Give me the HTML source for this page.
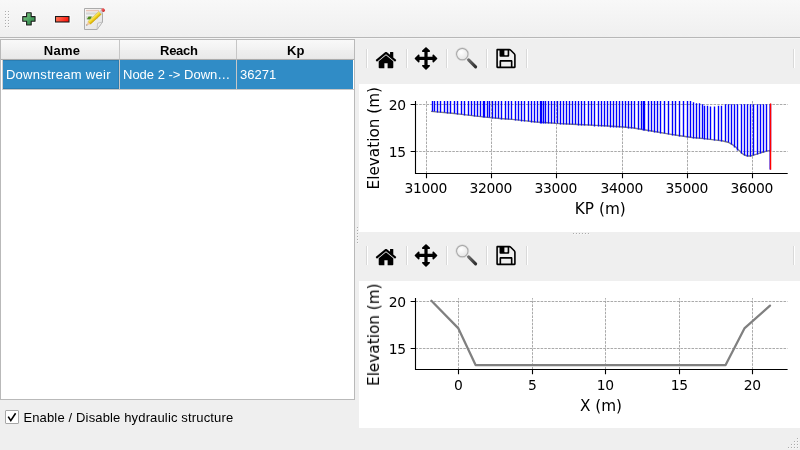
<!DOCTYPE html><html><head><meta charset="utf-8"><title>Hydraulic structures</title><style>
*{margin:0;padding:0;box-sizing:border-box}
html,body{width:800px;height:450px;overflow:hidden;background:#efefef}
body{position:relative;font-family:'Liberation Sans', sans-serif;font-size:13px;color:#000}
#root{position:absolute;left:0;top:0;width:800px;height:450px;overflow:hidden;will-change:transform}
.abs{position:absolute}
.fig{position:absolute;display:block}
.ico{position:absolute;display:block}
.sep{position:absolute;width:2px;height:19px;border-left:1px solid #d9d9d9;border-right:1px solid #ffffff}
i.dot{position:absolute;width:2px;height:2px;background:rgba(255,255,255,0.35)}
i.dot:before{content:"";position:absolute;left:0;top:0;width:1px;height:1px;background:rgba(0,0,0,0.3)}
.mpl text{font-family:'DejaVu Sans', sans-serif;font-size:13.89px;fill:#000;letter-spacing:-0.3px}
.mpl text.lab{font-size:15.28px;letter-spacing:0}
#tb{position:absolute;left:0;top:0;width:800px;height:39px;background:linear-gradient(#f8f8f8,#efefef);border-bottom:1px solid #f5f5f5}
#tbline{position:absolute;left:0;top:37px;width:800px;height:1px;background:#b7b7b7}
#table{position:absolute;left:0;top:39px;width:355px;height:361px;border:1px solid #b9b9b9;background:#fff}
.rowgl{position:absolute;left:1px;top:49px;width:352px;height:1px;background:#c7c7c7}
.lgl{position:absolute;left:1px;top:20px;width:1px;height:30px;background:#d0d0d0}
.hd{position:absolute;top:0;height:20px;background:linear-gradient(#f9f9f9 0%,#f2f2f2 50%,#efefef 50.1%,#eaeaea 92%,#e5e5e5 100%);border-bottom:1px solid #ababab;border-right:1px solid #c6c6c6;box-shadow:inset 0 1px 0 rgba(255,255,255,0.12);font-weight:bold;text-align:center;line-height:19px;font-size:13px}
.cell{position:absolute;top:20px;height:29px;background:#308cc6;color:#fff;line-height:29px;white-space:nowrap;overflow:hidden;font-size:13px}
.gl{position:absolute;top:20px;width:1px;height:29px;background:#c7c7c7}
.ht{position:absolute;top:1px;line-height:19px;font-weight:bold;font-size:13px;white-space:nowrap}
.ct{position:absolute;top:20px;line-height:29px;color:#fff;font-size:13px;white-space:nowrap}
#chk{position:absolute;left:5px;top:410px;width:14px;height:14px;border:1px solid #a7a7a7;background:#fff;border-radius:1px}
#chklbl{position:absolute;top:409px;font-size:13px;line-height:18px;white-space:nowrap}
</style></head><body><div id="root">
<div id="tb"></div><div id="tbline"></div>
<i class="dot" style="left:5px;top:11px"></i><i class="dot" style="left:5px;top:14px"></i><i class="dot" style="left:5px;top:17px"></i><i class="dot" style="left:5px;top:20px"></i><i class="dot" style="left:5px;top:23px"></i><i class="dot" style="left:5px;top:26px"></i><i class="dot" style="left:8px;top:11px"></i><i class="dot" style="left:8px;top:14px"></i><i class="dot" style="left:8px;top:17px"></i><i class="dot" style="left:8px;top:20px"></i><i class="dot" style="left:8px;top:23px"></i><i class="dot" style="left:8px;top:26px"></i>
<svg class="ico" style="left:20px;top:10px" width="18" height="18" viewBox="0 0 18 18">
<defs><linearGradient id="gp" x1="0" y1="0" x2="1" y2="1"><stop offset="0" stop-color="#8ccf8c"/><stop offset="0.55" stop-color="#4aa060"/><stop offset="1" stop-color="#2a7a40"/></linearGradient></defs>
<path d="M6.60 2.75 L11.20 2.75 L11.20 6.60 L15.05 6.60 L15.05 11.20 L11.20 11.20 L11.20 15.05 L6.60 15.05 L6.60 11.20 L2.75 11.20 L2.75 6.60 L6.60 6.60z" fill="none" stroke="#ffffff" stroke-width="3" stroke-linejoin="round" opacity="0.9"/>
<path d="M6.60 2.75 L11.20 2.75 L11.20 6.60 L15.05 6.60 L15.05 11.20 L11.20 11.20 L11.20 15.05 L6.60 15.05 L6.60 11.20 L2.75 11.20 L2.75 6.60 L6.60 6.60z" fill="url(#gp)" stroke="#1e1e1e" stroke-width="1.1" stroke-linejoin="round"/>
</svg>
<svg class="ico" style="left:53px;top:14px" width="18" height="10" viewBox="0 0 18 10">
<defs><linearGradient id="gm" x1="0" y1="0" x2="1" y2="0.3"><stop offset="0" stop-color="#ff8060"/><stop offset="1" stop-color="#ff1a10"/></linearGradient></defs>
<rect x="2.5" y="2.5" width="13.5" height="5.5" fill="none" stroke="#ffffff" stroke-width="3" opacity="0.9"/>
<rect x="2.5" y="2.5" width="13.5" height="5.5" fill="url(#gm)" stroke="#1a1a1a" stroke-width="1.1"/>
</svg>
<svg class="ico" style="left:82px;top:4px" width="26" height="28" viewBox="82 4 26 28">
<defs><linearGradient id="gpage" x1="0" y1="0" x2="1" y2="1"><stop offset="0" stop-color="#f7f7f7"/><stop offset="1" stop-color="#e2e2e2"/></linearGradient>
<linearGradient id="gpen" x1="0" y1="0" x2="0" y2="1"><stop offset="0" stop-color="#fbef7a"/><stop offset="0.5" stop-color="#f2d422"/><stop offset="1" stop-color="#d4a800"/></linearGradient>
<linearGradient id="gers" x1="0" y1="0" x2="0" y2="1"><stop offset="0" stop-color="#f07070"/><stop offset="1" stop-color="#d02828"/></linearGradient></defs>
<path d="M84.5 8.5H102.5V22L97 29.5H84.5Z" fill="url(#gpage)" stroke="#ababab" stroke-width="1"/>
<path d="M97 29.5L97.6 23.2L102.5 22Z" fill="#ececec" stroke="#b4b4b4" stroke-width="0.7" stroke-linejoin="round"/>
<rect x="86" y="9.9" width="13" height="1.4" fill="#e9c2b4"/>
<rect x="86" y="12.4" width="13" height="2.2" fill="#d6d6d6"/>
<rect x="86" y="16.2" width="12" height="3" fill="#dadada"/>
<path d="M86.8 19.2L88.6 16.6L91.8 16.4L90.4 19.6Z" fill="#4c8a1c"/>
<g transform="translate(86.2 25.6) rotate(-42.5)">
<path d="M0 0L4.2 -1.85V1.85Z" fill="#f2c8a0"/>
<path d="M0 0L1.3 -0.6V0.6Z" fill="#4a4a4a"/>
<rect x="4.2" y="-1.85" width="14.8" height="3.7" fill="url(#gpen)" stroke="#c09a00" stroke-width="0.35"/>
<rect x="19" y="-1.85" width="2.4" height="3.7" fill="#cfcfcf"/>
<rect x="21.4" y="-1.85" width="3.2" height="3.7" rx="1.2" fill="url(#gers)"/>
</g>
</svg>
<div id="table">
<div class="hd" style="left:0;width:119px"></div>
<div class="hd" style="left:119px;width:117px"></div>
<div class="hd" style="left:236px;width:117px;border-right:none"></div>
<span class="ht" style="left:42.7px;letter-spacing:0.3px">Name</span>
<span class="ht" style="left:159.1px;letter-spacing:-0.3px">Reach</span>
<span class="ht" style="left:286.1px">Kp</span>
<div class="cell" style="left:2px;width:116px;box-shadow:inset -1px -1px 0 #2a7db2, inset 0 1px 0 #2a7db2"></div>
<div class="gl" style="left:118px"></div>
<div class="rowgl"></div><div class="lgl"></div>
<div class="cell" style="left:119px;width:116px"></div>
<div class="gl" style="left:235px"></div>
<div class="cell" style="left:236px;width:116px"></div>
<span class="ct" style="left:4.9px;letter-spacing:0.3px">Downstream weir</span>
<span class="ct" style="left:122.0px;letter-spacing:0.0px">Node 2 -&gt; Down…</span>
<span class="ct" style="left:239.0px">36271</span>
</div>
<div id="chk"><svg width="12" height="12" viewBox="0 0 12 12" style="position:absolute;left:0;top:0"><path d="M2.2 5.6 L4.8 9.6 L9.6 2.2" stroke="#000" stroke-width="1.6" fill="none" stroke-linejoin="miter"/></svg></div>
<div id="chklbl" style="left:23.4px;letter-spacing:0.15px">Enable / Disable hydraulic structure</div>
<i class="dot" style="left:357px;top:227px"></i><i class="dot" style="left:357px;top:230px"></i><i class="dot" style="left:357px;top:233px"></i><i class="dot" style="left:357px;top:236px"></i><i class="dot" style="left:357px;top:239px"></i><i class="dot" style="left:357px;top:242px"></i>
<div class="sep" style="left:366px;top:49px"></div>
<div class="sep" style="left:406px;top:49px"></div>
<div class="sep" style="left:446px;top:49px"></div>
<div class="sep" style="left:486px;top:49px"></div>
<div class="sep" style="left:526px;top:49px"></div>
<div class="sep" style="left:793px;top:49px"></div>
<svg class="ico" style="left:374px;top:46px" width="24" height="24" viewBox="0 0 72 72"><path d="M 57.860938 45.94 C 57.860938 45.865625 57.860938 45.79125 57.818438 45.716875 L 35.994687 27.72875 L 14.181562 45.716875 C 14.181562 45.79125 14.139062 45.865625 14.139062 45.94 L 14.139062 64.15125 C 14.139062 65.479375 15.244062 66.584375 16.572187 66.584375 L 31.139063 66.584375 L 31.139063 52.0175 L 40.860938 52.0175 L 40.860938 66.584375 L 55.427813 66.584375 C 56.755938 66.584375 57.860938 65.479375 57.860938 64.15125 z M 66.318438 43.32625 C 66.732813 42.826875 66.658438 42.03 66.169688 41.615625 L 57.860938 34.709375 L 57.860938 19.22875 C 57.860938 18.54875 57.329688 18.0175 56.639063 18.0175 L 49.360938 18.0175 C 48.670312 18.0175 48.139062 18.54875 48.139062 19.22875 L 48.139062 26.62375 L 38.884687 18.88875 C 37.290937 17.560625 34.709063 17.560625 33.115313 18.88875 L 5.830312 41.615625 C 5.341562 42.03 5.267187 42.826875 5.681562 43.32625 L 8.029687 46.13125 C 8.220937 46.354375 8.529062 46.51375 8.826562 46.545625 C 9.166562 46.588125 9.474687 46.47125 9.740312 46.28 L 35.994687 24.3925 L 62.259687 46.28 C 62.482813 46.47125 62.748438 46.545625 63.056562 46.545625 C 63.088437 46.545625 63.130938 46.545625 63.173438 46.545625 C 63.470938 46.51375 63.779063 46.354375 63.970313 46.13125 z" fill="#000"/></svg>
<svg class="ico" style="left:414px;top:46px" width="24" height="24" viewBox="0 0 72 72"><path d="M 70 37.44 C 70 36.8025 69.734375 36.18625 69.2775 35.74 L 59.56625 26.018125 C 59.109375 25.56125 58.50375 25.295625 57.855625 25.295625 C 56.5275 25.295625 55.433125 26.400625 55.433125 27.72875 L 55.433125 32.584375 L 40.855625 32.584375 L 40.855625 18.0175 L 45.71125 18.0175 C 47.039375 18.0175 48.144375 16.9125 48.144375 15.584375 C 48.144375 14.93625 47.87875 14.330625 47.421875 13.87375 L 37.710625 4.1625 C 37.25375 3.705625 36.648125 3.44 36 3.44 C 35.351875 3.44 34.74625 3.705625 34.289375 4.1625 L 24.578125 13.87375 C 24.12125 14.330625 23.855625 14.93625 23.855625 15.584375 C 23.855625 16.9125 24.960625 18.0175 26.28875 18.0175 L 31.144375 18.0175 L 31.144375 32.584375 L 16.566875 32.584375 L 16.566875 27.72875 C 16.566875 26.400625 15.4725 25.295625 14.144375 25.295625 C 13.49625 25.295625 12.890625 25.56125 12.43375 26.018125 L 2.7225 35.74 C 2.265625 36.18625 2 36.8025 2 37.44 C 2 38.088125 2.265625 38.69375 2.7225 39.150625 L 12.43375 48.861875 C 12.890625 49.31875 13.49625 49.584375 14.144375 49.584375 C 15.4725 49.584375 16.566875 48.49 16.566875 47.161875 L 16.566875 42.295625 L 31.144375 42.295625 L 31.144375 56.873125 L 26.28875 56.873125 C 24.960625 56.873125 23.855625 57.9675 23.855625 59.295625 C 23.855625 59.94375 24.12125 60.549375 24.578125 61.00625 L 34.289375 70.7175 C 34.74625 71.174375 35.351875 71.44 36 71.44 C 36.648125 71.44 37.25375 71.174375 37.710625 70.7175 L 47.421875 61.00625 C 47.87875 60.549375 48.144375 59.94375 48.144375 59.295625 C 48.144375 57.9675 47.039375 56.873125 45.71125 56.873125 L 40.855625 56.873125 L 40.855625 42.295625 L 55.433125 42.295625 L 55.433125 47.161875 C 55.433125 48.49 56.5275 49.584375 57.855625 49.584375 C 58.50375 49.584375 59.109375 49.31875 59.56625 48.861875 L 69.2775 39.150625 C 69.734375 38.69375 70 38.088125 70 37.44" fill="#000"/></svg>
<svg class="ico" style="left:454px;top:46px" width="24" height="24" viewBox="0 0 24 24">
<defs><linearGradient id="hg46" x1="0" y1="0" x2="1" y2="1"><stop offset="0" stop-color="#6a6a6a"/><stop offset="1" stop-color="#2e2e2e"/></linearGradient>
<radialGradient id="lg46" cx="0.4" cy="0.35" r="0.7"><stop offset="0" stop-color="#ffffff"/><stop offset="1" stop-color="#e4e4e4"/></radialGradient></defs>
<path d="M14.6 13.9 L21.6 20.9" stroke="url(#hg46)" stroke-width="3.1" stroke-linecap="round"/>
<circle cx="8.3" cy="8.1" r="5.8" fill="url(#lg46)" stroke="#a9a9a9" stroke-width="1.2"/>
<circle cx="8.3" cy="8.1" r="6.6" fill="none" stroke="#d4d4d4" stroke-width="0.5"/>
</svg>
<svg class="ico" style="left:494px;top:46px" width="24" height="24" viewBox="0 0 72 72"><path d="M 21.4225 61.72875 L 21.4225 47.161875 L 50.566875 47.161875 L 50.566875 61.72875 z M 55.4225 61.72875 L 55.4225 45.94 C 55.4225 43.931875 53.796875 42.295625 51.78875 42.295625 L 20.21125 42.295625 C 18.203125 42.295625 16.566875 43.931875 16.566875 45.94 L 16.566875 61.72875 L 11.71125 61.72875 L 11.71125 13.161875 L 16.566875 13.161875 L 16.566875 28.94 C 16.566875 30.95875 18.203125 32.584375 20.21125 32.584375 L 42.066875 32.584375 C 44.085625 32.584375 45.71125 30.95875 45.71125 28.94 L 45.71125 13.161875 C 46.47625 13.161875 47.953125 13.7675 48.484375 14.29875 L 59.14125 24.955625 C 59.640625 25.455 60.28875 27.00625 60.28875 27.72875 L 60.28875 61.72875 z M 40.855625 26.5175 C 40.855625 27.155 40.281875 27.72875 39.644375 27.72875 L 32.355625 27.72875 C 31.7075 27.72875 31.144375 27.155 31.144375 26.5175 L 31.144375 14.373125 C 31.144375 13.725 31.7075 13.161875 32.355625 13.161875 L 39.644375 13.161875 C 40.281875 13.161875 40.855625 13.725 40.855625 14.373125 z M 65.144375 27.72875 C 65.144375 25.720625 64.0075 22.9475 62.5625 21.5025 L 51.9375 10.8775 C 50.4925 9.443125 47.719375 8.295625 45.71125 8.295625 L 10.5 8.295625 C 8.491875 8.295625 6.855625 9.931875 6.855625 11.94 L 6.855625 62.94 C 6.855625 64.95875 8.491875 66.584375 10.5 66.584375 L 61.5 66.584375 C 63.508125 66.584375 65.144375 64.95875 65.144375 62.94 z" fill="#000" fill-rule="evenodd"/></svg>
<svg class="fig" style="left:359px;top:84px" width="441" height="148" viewBox="359 84 441 148">
<rect x="359" y="84" width="441" height="148" fill="#fff"/>
<path d="M426.5 173.5V101.1 M491.5 173.5V101.1 M556.5 173.5V101.1 M622.5 173.5V101.1 M687.5 173.5V101.1 M752.5 173.5V101.1 M415.5 104.5H787.7 M415.5 151.5H787.7" stroke="#a0a0a0" stroke-width="0.9" stroke-dasharray="2.57 1.11" fill="none"/>
<polyline points="431,111.4 452,113.3 464,114.6 476,116.1 490,117.6 500,118.5 512,119.4 524,120.6 536,122 548,122.8 560,123.6 572,124.2 584,124.8 596,125.4 608,126 620,126.8 632,127.8 644,129.8 656,131.8 668,133.9 680,135.8 692,137.5 704,138.6 716,140.1 722,140.8 728,142.2 732,144.4 736,147.2 738,149.5 740,151.2 741.5,153.2 744.5,155 747.5,156 750.5,156 753.5,155.2 757.5,153.9 760.5,152.8 763.5,152 766.5,151.1 770.5,150.5" stroke="#808080" stroke-width="1.39" fill="none" stroke-linejoin="round"/>
<path d="M432.5 101.1V111.5 M434.5 101.1V111.5 M437.5 101.1V112.5 M440.5 101.1V112.5 M444.5 101.1V112.5 M447.5 101.1V113.5 M450.5 101.1V113.5 M454.5 101.1V113.5 M457.5 101.1V114.5 M461.5 101.1V114.5 M464.5 101.1V115.5 M468.5 101.1V115.5 M471.5 101.1V115.5 M474.5 101.1V116.5 M477.5 101.1V116.5 M480.5 101.1V116.5 M483.5 101.1V117.5 M484.5 101.1V117.5 M487.5 101.1V117.5 M489.5 101.1V117.5 M492.5 101.1V118.5 M495.5 101.1V118.5 M498.5 101.1V118.5 M501.5 101.1V119.5 M505.5 101.1V119.5 M508.5 101.1V119.5 M511.5 101.1V119.5 M515.5 101.1V120.5 M518.5 101.1V120.5 M521.5 101.1V121.5 M524.5 101.1V121.5 M528.5 101.1V121.5 M531.5 101.1V122.5 M534.5 101.1V122.5 M537.5 101.1V122.5 M540.5 101.1V123.5 M541.5 101.1V123.5 M543.5 101.1V123.5 M545.5 101.1V123.5 M548.5 101.1V123.5 M551.5 101.1V123.5 M554.5 101.1V123.5 M557.5 101.1V123.5 M560.5 101.1V124.5 M563.5 101.1V124.5 M566.5 101.1V124.5 M569.5 101.1V124.5 M572.5 101.1V124.5 M575.5 101.1V124.5 M578.5 101.1V125.5 M581.5 101.1V125.5 M584.5 101.1V125.5 M588.5 101.1V125.5 M591.5 101.1V125.5 M594.5 101.1V126.5 M598.5 101.1V126.5 M601.5 101.1V126.5 M604.5 101.1V126.5 M607.5 101.1V126.5 M610.5 101.1V127.5 M613.5 101.1V127.5 M616.5 101.1V127.5 M619.5 101.1V127.5 M622.5 101.1V127.5 M625.5 101.1V127.5 M628.5 101.1V128.5 M631.5 101.1V128.5 M634.5 101.1V128.5 M638.5 101.1V129.5 M641.5 101.1V129.5 M643.5 101.1V130.5 M644.5 101.1V130.5 M648.5 101.1V131.5 M651.5 101.1V131.5 M654.5 101.1V132.5 M657.5 101.1V132.5 M660.5 101.1V133.5 M664.5 101.1V133.5 M668.5 101.1V134.5 M672.5 101.1V135.5 M675.5 101.1V135.5 M679.5 101.1V136.5 M683.5 101.1V136.5 M687.5 101.1V137.5 M690.5 101.1V137.5 M693.5 102.3V138.5 M696.5 103.2V138.5 M699.5 103.2V138.5 M702.5 104.3V138.5 M704.5 105.7V139.5 M707.5 105.7V139.5 M710.5 106.5V139.5 M714.5 106.5V140.5 M718.5 105.7V140.5 M721.5 105.7V141.5 M725.5 104.2V141.5 M728.5 104.2V142.5 M731.5 104.2V144.5 M734.5 104.2V147.5 M737.5 104.2V150.5 M741.5 104.2V153.5 M744.5 104.2V155.5 M747.5 104.2V156.5 M750.5 104.2V156.5 M753.5 104.2V155.5 M757.5 104.2V154.5 M760.5 104.2V153.5 M763.5 104.2V152.5 M766.5 104.2V151.5 M770.5 104.2V151" stroke="#0000ff" stroke-width="1.39" fill="none"/>
<path d="M770.2 104.2V169.6" stroke="#0000ff" stroke-width="1.39" fill="none"/>
<path d="M770.55 103.4V169.7" stroke="#ff0000" stroke-width="1.39" fill="none"/>
<path d="M415.5 101.1V174.05 M414.95 173.5H787.7 M426.5 173.5V178.36 M491.5 173.5V178.36 M556.5 173.5V178.36 M622.5 173.5V178.36 M687.5 173.5V178.36 M752.5 173.5V178.36 M410.64 104.5H415.5 M410.64 151.5H415.5" stroke="#000" stroke-width="1.11" fill="none"/>
<g class="mpl"><text x="425.8" y="193.3" text-anchor="middle">31000</text><text x="490.8" y="193.3" text-anchor="middle">32000</text><text x="555.8" y="193.3" text-anchor="middle">33000</text><text x="621.8" y="193.3" text-anchor="middle">34000</text><text x="686.8" y="193.3" text-anchor="middle">35000</text><text x="751.8" y="193.3" text-anchor="middle">36000</text><text x="405.8" y="109.55" text-anchor="end">20</text><text x="405.8" y="156.55" text-anchor="end">15</text><text class="lab" x="600.3" y="214" text-anchor="middle">KP (m)</text><text class="lab" transform="translate(379 138.2) rotate(-90)" x="0" y="0" text-anchor="middle">Elevation (m)</text></g>
</svg>
<i class="dot" style="left:573px;top:233px"></i><i class="dot" style="left:576px;top:233px"></i><i class="dot" style="left:579px;top:233px"></i><i class="dot" style="left:582px;top:233px"></i><i class="dot" style="left:585px;top:233px"></i><i class="dot" style="left:588px;top:233px"></i>
<div class="sep" style="left:366px;top:246px"></div>
<div class="sep" style="left:406px;top:246px"></div>
<div class="sep" style="left:446px;top:246px"></div>
<div class="sep" style="left:486px;top:246px"></div>
<div class="sep" style="left:526px;top:246px"></div>
<div class="sep" style="left:793px;top:246px"></div>
<svg class="ico" style="left:374px;top:243px" width="24" height="24" viewBox="0 0 72 72"><path d="M 57.860938 45.94 C 57.860938 45.865625 57.860938 45.79125 57.818438 45.716875 L 35.994687 27.72875 L 14.181562 45.716875 C 14.181562 45.79125 14.139062 45.865625 14.139062 45.94 L 14.139062 64.15125 C 14.139062 65.479375 15.244062 66.584375 16.572187 66.584375 L 31.139063 66.584375 L 31.139063 52.0175 L 40.860938 52.0175 L 40.860938 66.584375 L 55.427813 66.584375 C 56.755938 66.584375 57.860938 65.479375 57.860938 64.15125 z M 66.318438 43.32625 C 66.732813 42.826875 66.658438 42.03 66.169688 41.615625 L 57.860938 34.709375 L 57.860938 19.22875 C 57.860938 18.54875 57.329688 18.0175 56.639063 18.0175 L 49.360938 18.0175 C 48.670312 18.0175 48.139062 18.54875 48.139062 19.22875 L 48.139062 26.62375 L 38.884687 18.88875 C 37.290937 17.560625 34.709063 17.560625 33.115313 18.88875 L 5.830312 41.615625 C 5.341562 42.03 5.267187 42.826875 5.681562 43.32625 L 8.029687 46.13125 C 8.220937 46.354375 8.529062 46.51375 8.826562 46.545625 C 9.166562 46.588125 9.474687 46.47125 9.740312 46.28 L 35.994687 24.3925 L 62.259687 46.28 C 62.482813 46.47125 62.748438 46.545625 63.056562 46.545625 C 63.088437 46.545625 63.130938 46.545625 63.173438 46.545625 C 63.470938 46.51375 63.779063 46.354375 63.970313 46.13125 z" fill="#000"/></svg>
<svg class="ico" style="left:414px;top:243px" width="24" height="24" viewBox="0 0 72 72"><path d="M 70 37.44 C 70 36.8025 69.734375 36.18625 69.2775 35.74 L 59.56625 26.018125 C 59.109375 25.56125 58.50375 25.295625 57.855625 25.295625 C 56.5275 25.295625 55.433125 26.400625 55.433125 27.72875 L 55.433125 32.584375 L 40.855625 32.584375 L 40.855625 18.0175 L 45.71125 18.0175 C 47.039375 18.0175 48.144375 16.9125 48.144375 15.584375 C 48.144375 14.93625 47.87875 14.330625 47.421875 13.87375 L 37.710625 4.1625 C 37.25375 3.705625 36.648125 3.44 36 3.44 C 35.351875 3.44 34.74625 3.705625 34.289375 4.1625 L 24.578125 13.87375 C 24.12125 14.330625 23.855625 14.93625 23.855625 15.584375 C 23.855625 16.9125 24.960625 18.0175 26.28875 18.0175 L 31.144375 18.0175 L 31.144375 32.584375 L 16.566875 32.584375 L 16.566875 27.72875 C 16.566875 26.400625 15.4725 25.295625 14.144375 25.295625 C 13.49625 25.295625 12.890625 25.56125 12.43375 26.018125 L 2.7225 35.74 C 2.265625 36.18625 2 36.8025 2 37.44 C 2 38.088125 2.265625 38.69375 2.7225 39.150625 L 12.43375 48.861875 C 12.890625 49.31875 13.49625 49.584375 14.144375 49.584375 C 15.4725 49.584375 16.566875 48.49 16.566875 47.161875 L 16.566875 42.295625 L 31.144375 42.295625 L 31.144375 56.873125 L 26.28875 56.873125 C 24.960625 56.873125 23.855625 57.9675 23.855625 59.295625 C 23.855625 59.94375 24.12125 60.549375 24.578125 61.00625 L 34.289375 70.7175 C 34.74625 71.174375 35.351875 71.44 36 71.44 C 36.648125 71.44 37.25375 71.174375 37.710625 70.7175 L 47.421875 61.00625 C 47.87875 60.549375 48.144375 59.94375 48.144375 59.295625 C 48.144375 57.9675 47.039375 56.873125 45.71125 56.873125 L 40.855625 56.873125 L 40.855625 42.295625 L 55.433125 42.295625 L 55.433125 47.161875 C 55.433125 48.49 56.5275 49.584375 57.855625 49.584375 C 58.50375 49.584375 59.109375 49.31875 59.56625 48.861875 L 69.2775 39.150625 C 69.734375 38.69375 70 38.088125 70 37.44" fill="#000"/></svg>
<svg class="ico" style="left:454px;top:243px" width="24" height="24" viewBox="0 0 24 24">
<defs><linearGradient id="hg243" x1="0" y1="0" x2="1" y2="1"><stop offset="0" stop-color="#6a6a6a"/><stop offset="1" stop-color="#2e2e2e"/></linearGradient>
<radialGradient id="lg243" cx="0.4" cy="0.35" r="0.7"><stop offset="0" stop-color="#ffffff"/><stop offset="1" stop-color="#e4e4e4"/></radialGradient></defs>
<path d="M14.6 13.9 L21.6 20.9" stroke="url(#hg243)" stroke-width="3.1" stroke-linecap="round"/>
<circle cx="8.3" cy="8.1" r="5.8" fill="url(#lg243)" stroke="#a9a9a9" stroke-width="1.2"/>
<circle cx="8.3" cy="8.1" r="6.6" fill="none" stroke="#d4d4d4" stroke-width="0.5"/>
</svg>
<svg class="ico" style="left:494px;top:243px" width="24" height="24" viewBox="0 0 72 72"><path d="M 21.4225 61.72875 L 21.4225 47.161875 L 50.566875 47.161875 L 50.566875 61.72875 z M 55.4225 61.72875 L 55.4225 45.94 C 55.4225 43.931875 53.796875 42.295625 51.78875 42.295625 L 20.21125 42.295625 C 18.203125 42.295625 16.566875 43.931875 16.566875 45.94 L 16.566875 61.72875 L 11.71125 61.72875 L 11.71125 13.161875 L 16.566875 13.161875 L 16.566875 28.94 C 16.566875 30.95875 18.203125 32.584375 20.21125 32.584375 L 42.066875 32.584375 C 44.085625 32.584375 45.71125 30.95875 45.71125 28.94 L 45.71125 13.161875 C 46.47625 13.161875 47.953125 13.7675 48.484375 14.29875 L 59.14125 24.955625 C 59.640625 25.455 60.28875 27.00625 60.28875 27.72875 L 60.28875 61.72875 z M 40.855625 26.5175 C 40.855625 27.155 40.281875 27.72875 39.644375 27.72875 L 32.355625 27.72875 C 31.7075 27.72875 31.144375 27.155 31.144375 26.5175 L 31.144375 14.373125 C 31.144375 13.725 31.7075 13.161875 32.355625 13.161875 L 39.644375 13.161875 C 40.281875 13.161875 40.855625 13.725 40.855625 14.373125 z M 65.144375 27.72875 C 65.144375 25.720625 64.0075 22.9475 62.5625 21.5025 L 51.9375 10.8775 C 50.4925 9.443125 47.719375 8.295625 45.71125 8.295625 L 10.5 8.295625 C 8.491875 8.295625 6.855625 9.931875 6.855625 11.94 L 6.855625 62.94 C 6.855625 64.95875 8.491875 66.584375 10.5 66.584375 L 61.5 66.584375 C 63.508125 66.584375 65.144375 64.95875 65.144375 62.94 z" fill="#000" fill-rule="evenodd"/></svg>
<svg class="fig" style="left:359px;top:281px" width="441" height="147" viewBox="359 281 441 147">
<rect x="359" y="281" width="441" height="147" fill="#fff"/>
<path d="M458.5 369.5V298.1 M532.5 369.5V298.1 M605.5 369.5V298.1 M679.5 369.5V298.1 M752.5 369.5V298.1 M415.5 301.5H787.6 M415.5 348.5H787.6" stroke="#a0a0a0" stroke-width="0.9" stroke-dasharray="2.57 1.11" fill="none"/>
<polyline points="431.4,300.7 458.4,328.4 475.6,365 725.6,365 744.4,328.4 770,305.6" stroke="#808080" stroke-width="2.25" fill="none" stroke-linejoin="round" stroke-linecap="round"/>
<path d="M415.5 298.1V370.05 M414.95 369.5H787.6 M458.5 369.5V374.36 M532.5 369.5V374.36 M605.5 369.5V374.36 M679.5 369.5V374.36 M752.5 369.5V374.36 M410.64 301.5H415.5 M410.64 348.5H415.5" stroke="#000" stroke-width="1.11" fill="none"/>
<g class="mpl"><text x="458.3" y="389.6" text-anchor="middle">0</text><text x="532.3" y="389.6" text-anchor="middle">5</text><text x="605.3" y="389.6" text-anchor="middle">10</text><text x="679.3" y="389.6" text-anchor="middle">15</text><text x="752.3" y="389.6" text-anchor="middle">20</text><text x="405.8" y="306.55" text-anchor="end">20</text><text x="405.8" y="353.55" text-anchor="end">15</text><text class="lab" x="601" y="410.6" text-anchor="middle">X (m)</text><text class="lab" transform="translate(379 334.7) rotate(-90)" x="0" y="0" text-anchor="middle">Elevation (m)</text></g>
</svg>
<i class="dot" style="left:797px;top:438px"></i><i class="dot" style="left:794px;top:441px"></i><i class="dot" style="left:797px;top:441px"></i><i class="dot" style="left:791px;top:444px"></i><i class="dot" style="left:794px;top:444px"></i><i class="dot" style="left:797px;top:444px"></i><i class="dot" style="left:788px;top:447px"></i><i class="dot" style="left:791px;top:447px"></i><i class="dot" style="left:794px;top:447px"></i><i class="dot" style="left:797px;top:447px"></i>
</div></body></html>
